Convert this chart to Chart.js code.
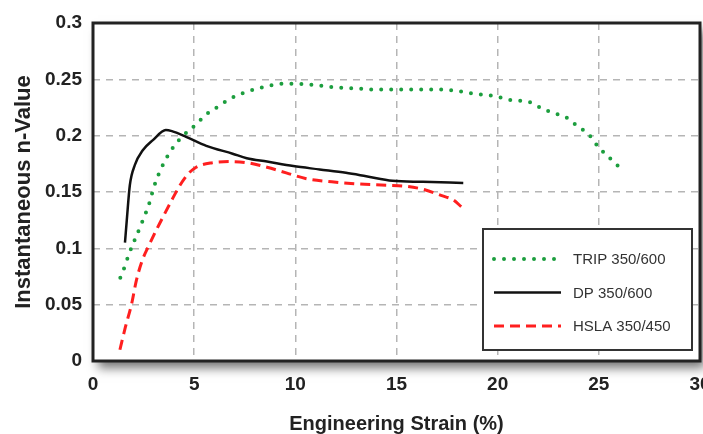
<html>
<head>
    <meta charset="utf-8">
    <title>n-Value chart</title>
    <style>
        body { margin: 0; background: #fff; }
        #wrap { width: 703px; height: 434px; position: relative; }
    </style>
</head>
<body>
    <div id="wrap"><canvas id="myChart"></canvas></div>
</body>
<script src="https://cdn.jsdelivr.net/npm/chart.js"></script>
<script>
    // values
    const tripX = [1.35, 1.55, 1.8, 2.05, 2.4, 2.8, 3.0, 3.4, 3.9, 4.4, 5.1, 5.6, 6.2, 6.7, 7.6, 8.4, 9.3, 10.0, 10.9, 11.9, 12.9, 13.9, 14.9, 15.9, 16.9, 17.9, 18.9, 19.9, 20.5, 21.1, 21.7, 22.2, 22.8, 23.4, 23.9, 24.3, 24.7, 25.0, 25.4, 25.7, 26.1]
    const tripY = [0.074, 0.083, 0.096, 0.107, 0.122, 0.141, 0.154, 0.172, 0.188, 0.199, 0.210, 0.219, 0.226, 0.232, 0.239, 0.243, 0.246, 0.246, 0.245, 0.243, 0.242, 0.241, 0.241, 0.241, 0.241, 0.240, 0.237, 0.235, 0.232, 0.231, 0.229, 0.224, 0.220, 0.216, 0.209, 0.204, 0.197, 0.189, 0.183, 0.177, 0.171]

    const dpX = [1.58, 1.67, 1.82, 2.07, 2.46, 2.96, 3.6, 3.9, 4.6, 5.6, 6.9, 7.6, 8.6, 9.9, 11.2, 12.5, 13.5, 14.8, 16.3, 18.3]
    const dpY = [0.105, 0.125, 0.156, 0.174, 0.187, 0.196, 0.205, 0.204, 0.199, 0.191, 0.184, 0.180, 0.177, 0.173, 0.170, 0.167, 0.164, 0.160, 0.159, 0.158]

    const hslaX = [1.33, 1.6, 1.9, 2.15, 2.45, 2.75, 3.15, 3.55, 3.9, 4.3, 4.7, 5.1, 5.9, 6.75, 7.6, 8.6, 9.55, 10.5, 11.8, 13.2, 14.5, 15.5, 16.4, 17.2, 17.8, 18.2]
    const hslaY = [0.010, 0.030, 0.050, 0.072, 0.090, 0.102, 0.117, 0.131, 0.143, 0.156, 0.166, 0.172, 0.176, 0.177, 0.176, 0.172, 0.167, 0.162, 0.159, 0.157, 0.156, 0.155, 0.152, 0.147, 0.143, 0.137]

    const seriesNames = ['TRIP 350/600', 'DP 350/600', 'HSLA 350/450']
    const xTicks = ['0', '5', '10', '15', '20', '25', '30']
    const yTicks = ['0', '0.05', '0.1', '0.15', '0.2', '0.25', '0.3']

    const pts = (xs, ys) => xs.map((x, i) => ({ x: x, y: ys[i] }))

    // white plot box with a soft drop shadow, drawn before the grid
    const frame = {
        id: 'frame',
        beforeDraw(chart) {
            const { ctx, chartArea: a } = chart
            ctx.save()
            ctx.shadowColor = 'rgba(0,0,0,0.55)'
            ctx.shadowBlur = 10
            ctx.shadowOffsetX = 5
            ctx.shadowOffsetY = 7
            ctx.fillStyle = '#fff'
            ctx.fillRect(a.left, a.top, a.right - a.left, a.bottom - a.top)
            ctx.restore()
        },
        afterDraw(chart) {
            const { ctx, chartArea: a } = chart
            ctx.save()
            ctx.strokeStyle = '#222'
            ctx.lineWidth = 3
            ctx.strokeRect(a.left, a.top, a.right - a.left, a.bottom - a.top)

            // legend box, bottom right inside the plot
            const bx = 483, by = 229, bw = 209, bh = 121
            ctx.fillStyle = '#fff'
            ctx.fillRect(bx, by, bw, bh)
            ctx.strokeStyle = '#333'
            ctx.lineWidth = 2
            ctx.strokeRect(bx, by, bw, bh)
            chart.data.datasets.forEach((ds, i) => {
                const y = 259 + i * 33.5
                ctx.beginPath()
                ctx.strokeStyle = ds.borderColor
                ctx.lineWidth = ds.borderWidth
                ctx.lineCap = ds.borderCapStyle || 'butt'
                ctx.setLineDash(ds.borderDash || [])
                ctx.moveTo(494, y)
                ctx.lineTo(561, y)
                ctx.stroke()
                ctx.setLineDash([])
                ctx.fillStyle = '#333'
                ctx.font = '15px "Liberation Sans", Arial, sans-serif'
                ctx.textBaseline = 'middle'
                ctx.fillText(ds.label, 573, y + 1)
            })
            ctx.restore()
        }
    }

    const tickFont = { family: '"Liberation Sans", Arial, sans-serif', size: 19, weight: 'bold' }

    new Chart(document.getElementById('myChart'), {
        type: 'line',
        data: {
            datasets: [{
                label: seriesNames[0],
                data: pts(tripX, tripY),
                borderColor: '#1c9e3e',
                borderWidth: 4,
                borderDash: [0, 10],
                borderCapStyle: 'round',
                pointRadius: 0,
                cubicInterpolationMode: 'monotone'
            }, {
                label: seriesNames[1],
                data: pts(dpX, dpY),
                borderColor: '#111',
                borderWidth: 2.5,
                pointRadius: 0,
                cubicInterpolationMode: 'monotone'
            }, {
                label: seriesNames[2],
                data: pts(hslaX, hslaY),
                borderColor: '#ff1f1f',
                borderWidth: 3,
                borderDash: [10, 6],
                pointRadius: 0,
                cubicInterpolationMode: 'monotone'
            }]
        },
        options: {
            responsive: true,
            maintainAspectRatio: false,
            animation: false,
            layout: { padding: { top: 23, right: 3, bottom: 0, left: 0 } },
            plugins: { legend: { display: false }, tooltip: { enabled: false } },
            scales: {
                x: {
                    type: 'linear',
                    min: 0, max: 30,
                    afterFit: (s) => { s.height = 73; s.paddingLeft = 0; s.paddingRight = 0 },
                    grid: { color: '#b5b5b5', lineWidth: 1.5, drawTicks: false },
                    border: { display: false, dash: [7, 6] },
                    ticks: {
                        stepSize: 5, padding: 12, color: '#222', font: tickFont,
                        callback: (v, i) => xTicks[i]
                    },
                    title: {
                        display: true, text: 'Engineering Strain (%)', color: '#222',
                        font: { family: '"Liberation Sans", Arial, sans-serif', size: 20, weight: 'bold', lineHeight: 1 },
                        padding: { top: 6, bottom: 0 }
                    }
                },
                y: {
                    min: 0, max: 0.3,
                    afterFit: (s) => { s.width = 93; s.paddingTop = 0; s.paddingBottom = 0 },
                    grid: { color: '#b5b5b5', lineWidth: 1.5, drawTicks: false },
                    border: { display: false, dash: [7, 6] },
                    ticks: {
                        stepSize: 0.05, padding: 11, color: '#222', font: tickFont,
                        callback: (v, i) => yTicks[i]
                    },
                    title: {
                        display: true, text: 'Instantaneous n-Value', color: '#222',
                        font: { family: '"Liberation Sans", Arial, sans-serif', size: 22, weight: 'bold', lineHeight: 1 },
                        padding: { top: 13, bottom: 0 }
                    }
                }
            }
        },
        plugins: [frame]
    })
</script>
</html>
